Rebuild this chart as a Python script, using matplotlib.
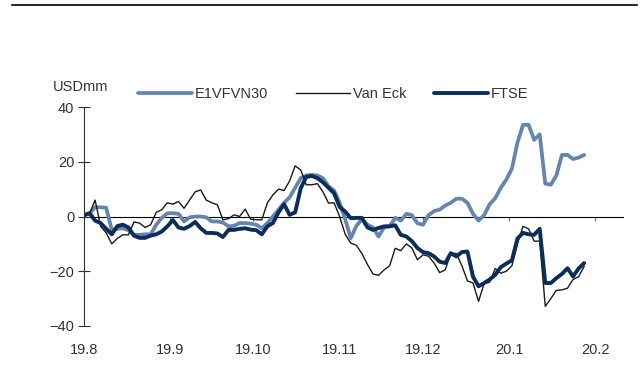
import matplotlib
matplotlib.use("Agg")
import matplotlib.pyplot as plt
import pandas as pd

plt.rcParams['font.family'] = ['Liberation Sans', 'DejaVu Sans']

# daily-ish fund flows, every second calendar day from 1 Aug 2019
dates = pd.date_range('2019-08-01', periods=91, freq='2D')

e1vfvn30 = [0.5, 1, 3.4, 3.4, 3.2, -4.9, -4.5, -4.3, -5, -6.7,
            -6.7, -6.5, -6.5, -3, -0.5, 1.2, 1.2, 1.0, -1.8, -0.3,
            0, 0, -0.3, -1.8, -1.8, -2.2, -3.6, -3.4, -2.4, -2.4,
            -2.6, -3, -4.3, -2.4, 0, 2.5, 5, 7, 10.5, 14,
            15, 15.2, 15, 14, 11, 9.5, 5, -1, -7.9, -3.5,
            -1, -3, -4, -7.3, -4, -3.5, -0.5, -1.5, 1, 0.5,
            -2.5, -3, 0.5, 2, 2.5, 4, 5, 6.5, 6.5, 5,
            1, -1.5, 0.5, 4.5, 6.7, 10.5, 13.5, 17.5, 27, 33.5,
            33.5, 28, 30, 12, 11.6, 15, 22.5, 22.5, 21, 21.5,
            22.5]

van_eck = [0, 1, 6, -3.6, -6, -10, -8, -6.7, -6.7, -2,
           -2.4, -4, -3, 1.5, 2.5, 5, 4.5, 5.5, 3, 6,
           9, 9.7, 6, 5, 4.3, -1.2, -0.8, 0.6, 0, 2.7,
           -1, -1.2, -1.2, 5, 7.9, 10, 9.5, 13, 18.5, 17,
           11.6, 11.6, 12, 9, 4.9, 5, 0, -6.5, -9.7, -10.5,
           -13.5, -17.5, -21, -21.5, -19.5, -18, -11.6, -12.5, -10, -11.5,
           -15.8, -14, -14.5, -17, -20.5, -19.5, -13.4, -13.5, -18, -23.5,
           -24.3, -31, -24.5, -24, -19, -20.7, -20, -18, -10, -3.6,
           -4.5, -9, -9, -32.8, -30, -27, -26.8, -26.2, -23, -22,
           -18.2]

ftse = [0.5, 1.2, -1.5, -2.4, -4.5, -6.5, -3.5, -3, -4, -7,
        -7.8, -7.8, -7, -6.5, -5.5, -3.6, -1.3, -4, -4.5, -3.5,
        -2, -4.3, -6, -6, -6.2, -7.5, -4.9, -4.9, -4.5, -4.3,
        -4.8, -5, -6.5, -3.6, -2.4, 1.5, 4.5, 0.6, 1.5, 10.3,
        14.5, 14.8, 14, 12.5, 10.5, 8.5, 3.5, 1.8, -0.6, -0.5,
        -0.5, -4, -4.9, -4.2, -3.6, -3.6, -3.2, -6.7, -7.3, -9,
        -11.5, -13, -13.4, -14.6, -16.5, -17, -13.4, -14.6, -13, -12.8,
        -22, -25.5, -24.3, -23, -21.3, -18.5, -17.2, -16, -8, -6,
        -6.5, -6.7, -4.5, -24.3, -24.3, -22.5, -21, -18.9, -21.9, -19,
        -17]

tick_dates = pd.date_range('2019-08-01', '2020-02-01', freq='MS')
tick_labels = ['19.8', '19.9', '19.10', '19.11', '19.12', '20.1', '20.2']

fig = plt.figure(figsize=(6.43, 3.76), dpi=100)
ax = fig.add_axes([0.1306, 0.133, 0.969 - 0.1306, 0.5824])

ax.plot(dates, e1vfvn30, color='#6685ae', lw=2.7, label='E1VFVN30', solid_capstyle='round')
ax.plot(dates, van_eck, color='#1a1a1a', lw=1.0, label='Van Eck')
ax.plot(dates, ftse, color='#0b2d59', lw=2.8, label='FTSE', solid_capstyle='round')

ax.set_ylim(-40, 40)
ax.set_xlim(pd.Timestamp('2019-08-01'), pd.Timestamp('2020-02-11'))
ax.set_yticks([-40, -20, 0, 20, 40])
ax.tick_params(axis='y', direction='inout', length=8, width=0.8, colors='#333333',
               labelsize=10.5, pad=3)

# month labels along the bottom, no marks there
ax.set_xticks(tick_dates)
ax.set_xticklabels(tick_labels)
ax.tick_params(axis='x', length=0, labelsize=10.5, colors='#333333', pad=12)

for side in ['top', 'right', 'bottom']:
    ax.spines[side].set_visible(False)
ax.spines['left'].set_color('#333333')
ax.spines['left'].set_linewidth(0.8)

# zero line carrying the month tick marks
zero = ax.secondary_xaxis(0.5)
zero.set_xticks(tick_dates)
zero.set_xticklabels([])
zero.tick_params(axis='x', direction='in', length=3, width=0.8, colors='#666666')
zero.spines['bottom'].set_color('#777777')
zero.spines['bottom'].set_linewidth(1.2)

fig.text(53 / 643, 1 - 87 / 376, 'USDmm', fontsize=10.5, color='#333333', va='center')

leg = ax.legend(loc='center left', bbox_to_anchor=(0.100, 1.059), ncol=3, frameon=False,
                fontsize=10.5, handlelength=3.7, handletextpad=0.2, columnspacing=1.9,
                borderaxespad=0, borderpad=0)
for t in leg.get_texts():
    t.set_color('#333333')

# rule across the top of the page
fig.add_artist(plt.Line2D([12 / 643, 637 / 643], [1 - 4.5 / 376] * 2, color='black', lw=1.2))

fig.savefig('out.png', dpi=100)
